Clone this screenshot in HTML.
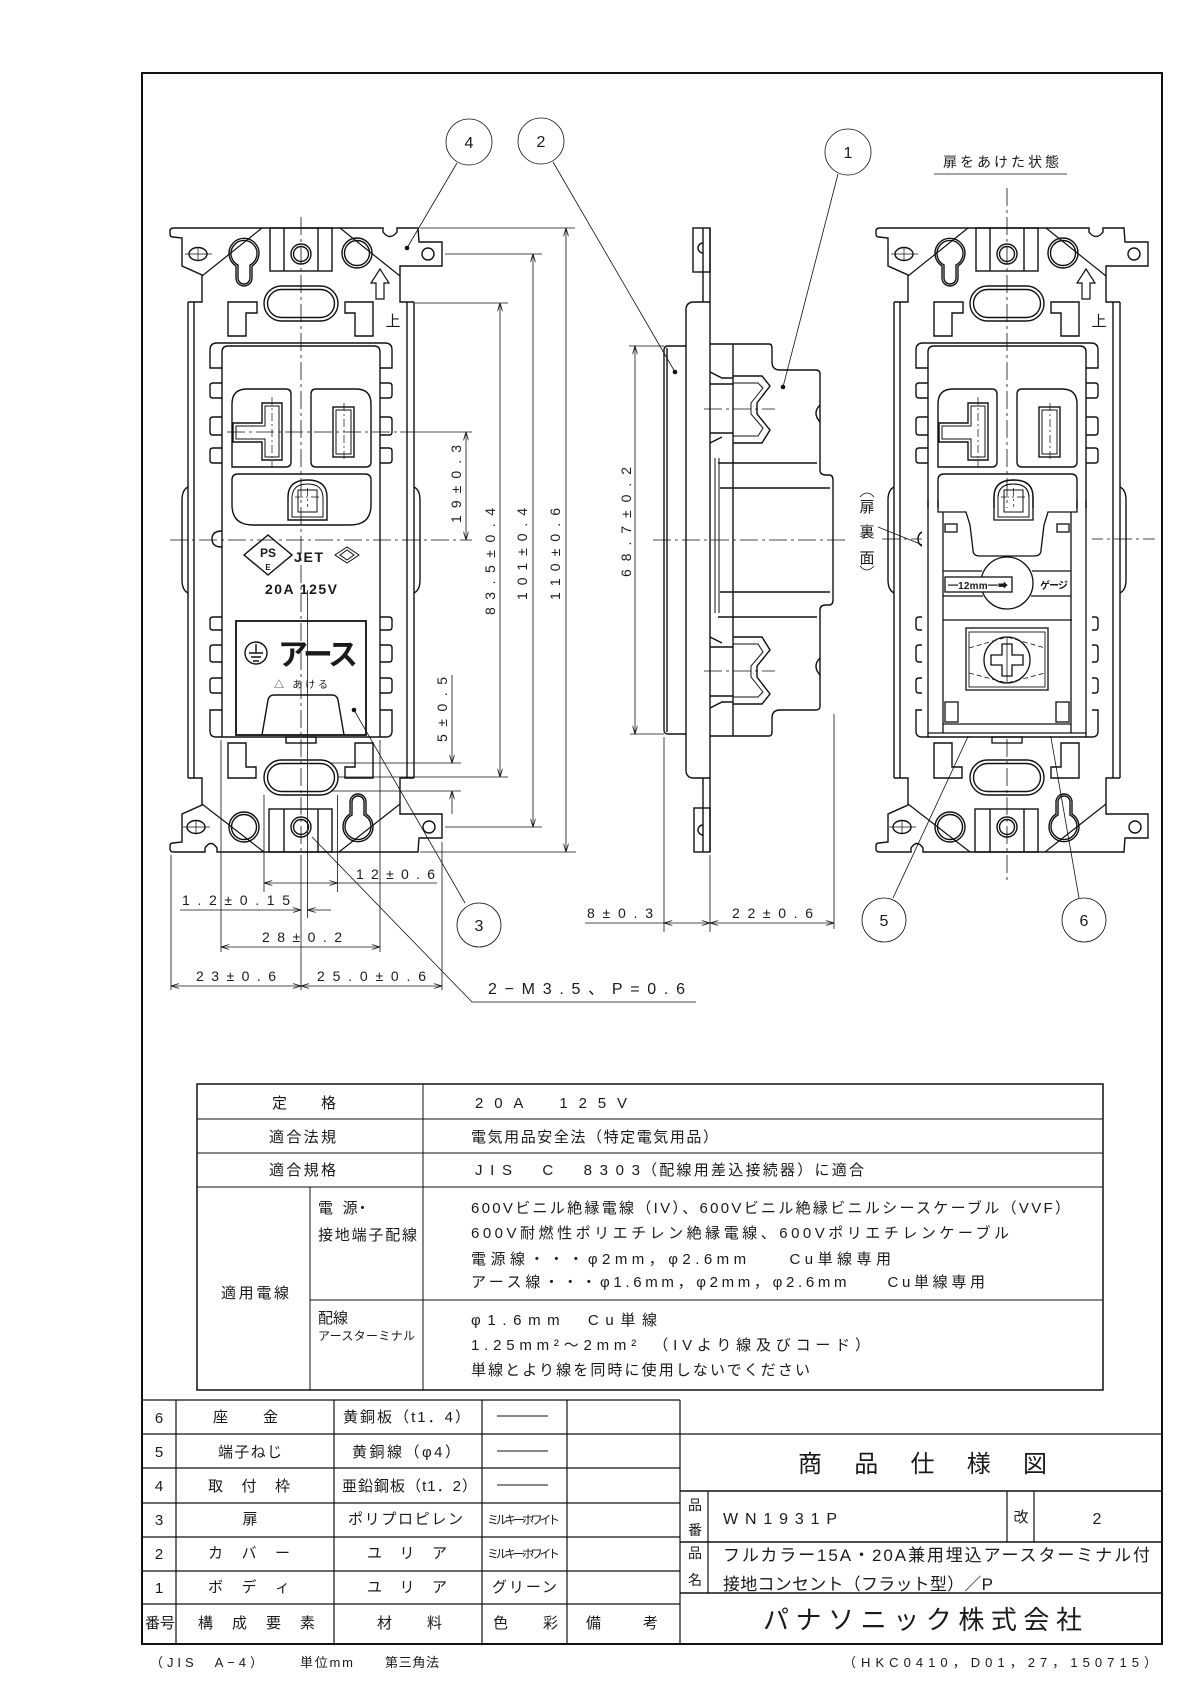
<!DOCTYPE html>
<html><head><meta charset="utf-8">
<style>
html,body{margin:0;padding:0;background:#fff;}
svg{display:block;}
text{font-family:"Liberation Sans","Noto Sans CJK JP",sans-serif;fill:#1a1a1a;}
</style></head><body>
<svg width="1190" height="1683" viewBox="0 0 1190 1683" xmlns="http://www.w3.org/2000/svg">
<defs>
<marker id="ar" viewBox="0 0 10 6" refX="10" refY="3" markerWidth="9" markerHeight="5" orient="auto-start-reverse" markerUnits="userSpaceOnUse">
<path d="M0,0 L10,3 L0,6" fill="none" stroke="#111" stroke-width="1"/>
</marker>
<g id="fv" fill="none" stroke="#111" stroke-width="1.4">
 <path d="M188,302 L202,302 L202,275 L182,266 L182,238 L173,237 Q170,237 170,234 L170,231 Q170,228 174,228 L383,228 L383,232 Q390,241 397,232 L397,228 L418,228 L419,242 L442,242 L442,266 L400,266 L400,302 L414,302"/>
 <path d="M188,778 L202,778 L202,805 L182,814 L182,842 L173,843 Q170,843 170,846 L170,849 Q170,852 174,852 L205,852 L205,848 Q211,839 217,848 L217,852 L418,852 L419,838 L442,838 L442,814 L400,814 L400,778 L414,778"/>
 <path d="M188,302 V778 M194,302 V778 M407,302 V778 M414,302 V778"/>
 <path d="M202,276 L262,228 M340,228 L400,276 M202,804 L264,852 M339,852 L400,804" stroke-width="1.2"/>
 <rect x="270" y="228" width="62" height="43"/>
 <path d="M284,228 V271 M318,228 V271"/>
 <rect x="269" y="809" width="63" height="43"/>
 <path d="M284,809 V852 M318,809 V852"/>
 <circle cx="301" cy="254" r="10"/><circle cx="301" cy="254" r="7.5"/>
 <circle cx="301" cy="827" r="10"/><circle cx="301" cy="827" r="7.5"/>
 <path d="M236,266 A15,15 0 1 1 252,266 L252,278 A8,8 0 0 1 236,278 Z"/>
 <path d="M238,265 A13,13 0 1 1 250,265 L250,278 A6,6 0 0 1 238,278 Z"/>
 <path d="M366,814 A15,15 0 1 1 350,814 L350,802 A8,8 0 0 1 366,802 Z"/>
 <path d="M364,815 A13,13 0 1 1 352,815 L352,802 A6,6 0 0 1 364,802 Z"/>
 <circle cx="357" cy="253" r="15"/><circle cx="357" cy="253" r="12.5"/>
 <circle cx="244" cy="827" r="15"/><circle cx="244" cy="827" r="12.5"/>
 <ellipse cx="198" cy="254" rx="9" ry="6.5"/>
 <ellipse cx="196" cy="827" rx="9" ry="6.5"/>
 <circle cx="428" cy="254" r="6"/>
 <circle cx="429" cy="827" r="6"/>
 <path d="M185,254 H212 M198,247 V261 M183,827 H210 M196,820 V834" stroke-width="0.7"/>
 <rect x="264" y="286" width="74" height="35" rx="17.5"/>
 <rect x="267.5" y="289.5" width="67" height="28" rx="14"/>
 <rect x="264" y="760" width="74" height="35" rx="17.5"/>
 <rect x="267.5" y="763.5" width="67" height="28" rx="14"/>
 <path d="M228,302 H257 V313 H246 V336 H228 Z"/>
 <path d="M373,302 H345 V313 H355 V336 H373 Z"/>
 <path d="M228,778 H256 V767 H246 V743 H228 Z"/>
 <path d="M373,778 H345 V767 H355 V743 H373 Z"/>
 <path d="M380,269 L389,283 L384,283 L384,299 L376,299 L376,283 L371,283 Z" stroke-width="1.2"/>
 <path d="M222,368 H210 V350 Q210,343 217,343 H385 Q392,343 392,350 V368 H380"/>
 <path d="M222,383 H213 Q210,383 210,386 V395 Q210,398 213,398 H222"/>
 <path d="M222,417 H213 Q210,417 210,420 V432 Q210,435 213,435 H222"/>
 <path d="M222,448 H213 Q210,448 210,451 V460 Q210,463 213,463 H222"/>
 <path d="M222,617 H213 Q210,617 210,620 V627 Q210,630 213,630 H222"/>
 <path d="M222,645 H213 Q210,645 210,648 V659 Q210,662 213,662 H222"/>
 <path d="M222,678 H213 Q210,678 210,681 V690 Q210,693 213,693 H222"/>
 <path d="M380,383 H389 Q392,383 392,386 V395 Q392,398 389,398 H380"/>
 <path d="M380,417 H389 Q392,417 392,420 V432 Q392,435 389,435 H380"/>
 <path d="M380,448 H389 Q392,448 392,451 V460 Q392,463 389,463 H380"/>
 <path d="M380,617 H389 Q392,617 392,620 V627 Q392,630 389,630 H380"/>
 <path d="M380,645 H389 Q392,645 392,648 V659 Q392,662 389,662 H380"/>
 <path d="M380,678 H389 Q392,678 392,681 V690 Q392,693 389,693 H380"/>
 <path d="M222,710 H210 V731 Q210,737 216,737 H386 Q392,737 392,731 V710 H380"/>
 <path d="M222,737 V352 Q222,346 228,346 H374 Q380,346 380,352 V737"/>
 <path d="M188,487 Q182,490 182,500 V580 Q182,590 188,593"/>
 <path d="M414,487 Q420,490 420,500 V580 Q420,590 414,593"/>
 <path d="M222,531 Q212,531 212,539 Q212,547 222,547"/>
 <path d="M232,467 V404 Q232,389 247,389 H286 Q291,389 291,394 V462 Q291,467 286,467 Z"/>
 <path d="M262,403 H282 V460 H262 V442 H233 V423 H262 Z"/>
 <path d="M265,406 H279 V457 H265 V439 H236 V426 H265 Z" stroke-width="1"/>
 <path d="M311,394 Q311,389 316,389 H356 Q371,389 371,404 V462 Q371,467 366,467 H316 Q311,467 311,462 Z"/>
 <rect x="333" y="407" width="21" height="50"/>
 <rect x="336" y="410" width="15" height="44" stroke-width="1"/>
 <path d="M232,480 Q232,474 238,474 H365 Q371,474 371,480 V505 Q371,525 350,525 H253 Q232,525 232,505 Z"/>
 <path d="M288,520 V497 Q288,480 307.5,480 Q327,480 327,497 V520 Z"/>
 <path d="M292,517 V498 Q292,484 307.5,484 Q323,484 323,498 V517 Z" stroke-width="1"/>
 <rect x="298" y="490" width="19" height="22" stroke-width="1"/>
 <path d="M272,397 V467 M344,403 V462 M295,497 H320 M307.5,488 V507" stroke-width="0.7" stroke-dasharray="8 3 2 3"/>
</g>
</defs>

<!-- main frame -->
<rect x="142" y="73" width="1020" height="1571" fill="none" stroke="#111" stroke-width="2"/>

<!-- left and right front views (common parts) -->
<use href="#fv"/>
<use href="#fv" transform="translate(706,0)"/>

<g fill="none" stroke="#111" stroke-width="0.8">
 <!-- center lines -->
 <path d="M301,217 V860 M170,540 H472 M1007,188 V882 M882,539 H1155 M653,540 H847 M704,409 H775 M704,671 H775" stroke-dasharray="18 4 3 4"/>
 <path d="M227,432 H400" stroke-dasharray="18 4 3 4"/>
 <path d="M400,432 H472"/>
 <path d="M301,860 V990"/>
 <path d="M307.5,590 V918"/>
 <!-- vertical dims left view -->
 <path d="M420,228 H575 M420,852 H576 M445,254 H542 M445,827 H542 M415,303 H508 M338,777 H508 M331,763 H461 M331,791 H461"/>
 <line x1="566" y1="228" x2="566" y2="852" marker-start="url(#ar)" marker-end="url(#ar)"/>
 <line x1="533" y1="254" x2="533" y2="827" marker-start="url(#ar)" marker-end="url(#ar)"/>
 <line x1="500" y1="303" x2="500" y2="777" marker-start="url(#ar)" marker-end="url(#ar)"/>
 <line x1="466" y1="432" x2="466" y2="540" marker-start="url(#ar)" marker-end="url(#ar)"/>
 <line x1="452" y1="675" x2="452" y2="763" marker-end="url(#ar)"/>
 <line x1="452" y1="814" x2="452" y2="791" marker-end="url(#ar)"/>
 <!-- bottom dims -->
 <path d="M264,795 V892 M337.5,795 V892 M221,740 V952 M380,740 V952 M171,855 V990 M442,842 V990"/>
 <line x1="264" y1="883" x2="337.5" y2="883" marker-start="url(#ar)" marker-end="url(#ar)"/>
 <path d="M337.5,883 H437"/>
 <line x1="180" y1="910" x2="301" y2="910" marker-end="url(#ar)"/>
 <line x1="331" y1="910" x2="307.5" y2="910" marker-end="url(#ar)"/>
 <line x1="221" y1="947" x2="380" y2="947" marker-start="url(#ar)" marker-end="url(#ar)"/>
 <line x1="171" y1="986" x2="301" y2="986" marker-start="url(#ar)" marker-end="url(#ar)"/>
 <line x1="301" y1="986" x2="442" y2="986" marker-start="url(#ar)" marker-end="url(#ar)"/>
 <path d="M312,837 L472,1002 H696"/>
 <!-- side view dims -->
 <path d="M629,346 H664 M630,734 H664 M664,737 V932 M710,855 V932 M834,714 V929"/>
 <line x1="635" y1="346" x2="635" y2="734" marker-start="url(#ar)" marker-end="url(#ar)"/>
 <path d="M585,923 H664"/>
 <line x1="664" y1="923" x2="710" y2="923" marker-start="url(#ar)" marker-end="url(#ar)"/>
 <line x1="710" y1="923" x2="834" y2="923" marker-start="url(#ar)" marker-end="url(#ar)"/>
 <!-- balloons -->
 <circle cx="469" cy="142" r="23"/>
 <circle cx="541" cy="141" r="23"/>
 <circle cx="848" cy="152" r="23"/>
 <circle cx="479" cy="925" r="22"/>
 <circle cx="884" cy="920" r="22"/>
 <circle cx="1084" cy="920" r="22"/>
 <path d="M457,163 L407,248 M553,162 L675,372 M838,174 L783,387 M465,903 L354,710 M893,898 L998,672 M1079,898 L1039,669"/>
 <line x1="878" y1="527" x2="955" y2="558" marker-end="url(#ar)"/>
 <path d="M934,174 H1067"/>
 <path d="M860,497 Q867,489 874,497 M860,566 Q867,574 874,566"/>
</g>
<g fill="#111">
 <circle cx="407" cy="248" r="2.3"/><circle cx="675" cy="372" r="2.3"/><circle cx="783" cy="387" r="2.3"/>
 <circle cx="354" cy="710" r="2.3"/><circle cx="998" cy="672" r="2.3"/><circle cx="1039" cy="669" r="2.3"/>
</g>

<!-- left view specific -->
<g fill="none" stroke="#111" stroke-width="1.4">
 <path d="M244,555 L268,535 L292,555 L268,575 Z"/>
 <path d="M335,555 L347,547 L359,555 L347,563 Z M340,555 L347,550 L354,555 L347,560 Z" stroke-width="1"/>
 <rect x="236" y="621" width="130" height="114" stroke-width="1.8"/>
 <circle cx="256" cy="653" r="11"/>
 <path d="M256,644 V653 M249,653 H263 M251,657 H261 M253,661 H259"/>
 <path d="M262,735 L268,700 Q269,695 274,695 L332,695 Q337,695 338,700 L344,735"/>
 <rect x="286" y="737" width="30" height="6"/>
</g>
<text x="268" y="557" font-size="12" font-weight="bold" text-anchor="middle">PS</text>
<text x="268" y="570" font-size="8" font-weight="bold" text-anchor="middle">E</text>
<text x="294" y="562" font-size="14" font-weight="bold" textLength="29">JET</text>
<text x="265" y="594" font-size="14" font-weight="bold" textLength="72">20A 125V</text>
<text x="278" y="665" font-size="30" font-weight="bold" textLength="80">アース</text>
<text x="274" y="688" font-size="10" textLength="54">△ あける</text>
<text x="393" y="326" font-size="15" text-anchor="middle">上</text>
<text x="1099" y="326" font-size="15" text-anchor="middle">上</text>

<!-- right view specific -->
<g fill="none" stroke="#111" stroke-width="1.3">
 <rect x="922" y="508" width="170" height="228" fill="#fff" stroke="none"/>
 <path d="M928,500 V737 M1086,500 V737"/>
 <path d="M938,500 V512 H943 M1077,500 V512 H1071"/>
 <path d="M943,512 V733 M1071,512 V733"/>
 <path d="M943,512 H966 L970,525 L973,550 Q973,556 980,556 H1034 Q1041,556 1041,550 L1044,525 L1048,512 H1071"/>
 <path d="M994,520 V497 Q994,480 1013.5,480 Q1033,480 1033,497 V520 Z"/>
 <path d="M998,517 V498 Q998,484 1013.5,484 Q1029,484 1029,498 V517 Z" stroke-width="1"/>
 <rect x="1004" y="490" width="19" height="22" stroke-width="1"/>
 <rect x="945" y="524" width="12" height="8"/>
 <rect x="1057" y="524" width="12" height="8"/>
 <path d="M943,571 H982 M1032,571 H1071 M943,596 H983 M1031,596 H1071"/>
 <circle cx="1007" cy="583" r="26"/>
 <rect x="945" y="577" width="67" height="15" fill="#fff"/>
 <path d="M943,620 H1072"/>
 <rect x="966" y="628" width="82" height="62"/>
 <rect x="969" y="632" width="76" height="55" stroke-width="0.9"/>
 <path d="M969,648 L1007,637 L1045,648 M969,673 L1007,683 L1045,673" stroke-width="0.8" stroke-dasharray="5 3"/>
 <circle cx="1007" cy="660" r="23"/>
 <path d="M1002,644 H1012 V655 H1023 V665 H1012 V676 H1002 V665 H991 V655 H1002 Z"/>
 <path d="M1007,637 V683" stroke-width="0.8"/>
 <rect x="945" y="702" width="13" height="20"/>
 <rect x="1056" y="702" width="13" height="20"/>
 <path d="M943,724 H1071 M928,733 H1086"/>
 <rect x="992" y="737" width="30" height="6"/>
</g>
<text x="978" y="589" font-size="10" font-weight="bold" text-anchor="middle" textLength="60">━12mm━➡</text>
<text x="1040" y="589" font-size="10" font-weight="bold" textLength="28">ゲージ</text>
<text x="867" y="512" font-size="15" text-anchor="middle">扉</text>
<text x="867" y="537" font-size="15" text-anchor="middle">裏</text>
<text x="867" y="563" font-size="15" text-anchor="middle">面</text>
<text x="943" y="167" font-size="14" textLength="116">扉をあけた状態</text>

<!-- side view -->
<g fill="none" stroke="#111" stroke-width="1.4">
 <path d="M703,228 V302 M703,778 V852 M710,228 V852"/>
 <rect x="693" y="228" width="17" height="44"/>
 <path d="M703,243 A5,5 0 0 0 703,253"/>
 <rect x="694" y="808" width="16" height="44"/>
 <path d="M703,825 A5,5 0 0 0 703,835"/>
 <path d="M710,302 H694 Q686,302 686,310 V770 Q686,778 694,778 H710"/>
 <path d="M686,346 H668 Q664,346 664,350 V730 Q664,734 668,734 H686 M667,348 V732"/>
 <path d="M710,344 H769 Q772,344 772,348 V362 Q772,370 780,370 H816 Q820,370 820,374 V470 Q820,475 826,475 H829 Q833,475 833,480 V600 Q833,605 829,605 H826 Q820,605 820,610 V706 Q820,710 816,710 H780 Q772,710 772,718 V732 Q772,736 769,736 H710"/>
 <path d="M733,344 V736"/>
 <path d="M710,372 L722,378 H733 M710,443 L722,437 M710,384 H733 M710,433 H733"/>
 <path d="M733,376 H762 L770,386 L757,403 V414 L770,430 L762,443 H733"/>
 <path d="M733,383 H758 L763,388 L751,403 V414 L763,428 L758,436 H733" stroke-width="1"/>
 <path d="M710,708 L722,702 H733 M710,637 L722,643 M710,696 H733 M710,647 H733"/>
 <path d="M733,704 H762 L770,694 L757,677 V666 L770,650 L762,637 H733"/>
 <path d="M733,697 H758 L763,692 L751,677 V666 L763,652 L758,644 H733" stroke-width="1"/>
 <path d="M718,463 H817 M720,488 H830 M720,592 H830 M718,617 H817"/>
 <path d="M715,458 V613 M719,458 V613" stroke-width="1"/>
 <path d="M820,405 Q812,413 820,422 M820,658 Q812,666 820,675"/>
</g>

<!-- drawing texts -->
<g font-size="16" text-anchor="middle">
 <text x="469" y="148">4</text>
 <text x="541" y="147">2</text>
 <text x="848" y="158">1</text>
 <text x="479" y="931">3</text>
 <text x="884" y="926">5</text>
 <text x="1084" y="926">6</text>
</g>
<g font-size="14">
 <text transform="translate(560,600) rotate(-90)" textLength="92">110±0.6</text>
 <text transform="translate(527,600) rotate(-90)" textLength="92">101±0.4</text>
 <text transform="translate(495,615) rotate(-90)" textLength="107">83.5±0.4</text>
 <text transform="translate(461,523) rotate(-90)" textLength="78">19±0.3</text>
 <text transform="translate(447,742) rotate(-90)" textLength="65">5±0.5</text>
 <text transform="translate(631,577) rotate(-90)" textLength="110">68.7±0.2</text>
 <text x="356" y="879" textLength="79">12±0.6</text>
 <text x="182" y="905" textLength="108">1.2±0.15</text>
 <text x="262" y="942" textLength="80">28±0.2</text>
 <text x="196" y="981" textLength="80">23±0.6</text>
 <text x="317" y="981" textLength="109">25.0±0.6</text>
 <text x="488" y="994" font-size="16" textLength="197">2−M3.5、P=0.6</text>
 <text x="587" y="918" textLength="66">8±0.3</text>
 <text x="732" y="918" textLength="81">22±0.6</text>
</g>

<!-- upper spec table -->
<g fill="none" stroke="#111">
 <rect x="197" y="1084" width="906" height="306" stroke-width="1.5"/>
 <path d="M197,1119 H1103 M197,1153 H1103 M197,1187 H1103 M310,1300 H1103 M423,1084 V1390 M310,1187 V1390" stroke-width="1"/>
</g>
<g font-size="15">
 <text x="272" y="1108" textLength="64">定　格</text>
 <text x="475" y="1108" textLength="152">20A　125V</text>
 <text x="269" y="1142" textLength="67">適合法規</text>
 <text x="471" y="1142" textLength="247">電気用品安全法（特定電気用品）</text>
 <text x="269" y="1175" textLength="67">適合規格</text>
 <text x="475" y="1175" textLength="165">JIS　C　8303</text>
 <text x="642" y="1175" textLength="222">（配線用差込接続器）に適合</text>
 <text x="318" y="1213" textLength="52">電　源・</text>
 <text x="318" y="1240" textLength="99">接地端子配線</text>
 <text x="221" y="1298" textLength="68">適用電線</text>
 <text x="471" y="1213" textLength="599">600Vビニル絶縁電線（IV）、600Vビニル絶縁ビニルシースケーブル（VVF）</text>
 <text x="471" y="1238" textLength="538">600V耐燃性ポリエチレン絶縁電線、600Vポリエチレンケーブル</text>
 <text x="471" y="1264" textLength="420">電源線・・・φ2mm，φ2.6mm　　Cu単線専用</text>
 <text x="471" y="1287" textLength="514">アース線・・・φ1.6mm，φ2mm，φ2.6mm　　Cu単線専用</text>
 <text x="318" y="1323" textLength="30">配線</text>
 <text x="318" y="1340" font-size="12" textLength="97">アースターミナル</text>
 <text x="471" y="1325" textLength="186">φ1.6mm　Cu単線</text>
 <text x="471" y="1350" textLength="399">1.25mm²〜2mm²　（IVより線及びコード）</text>
 <text x="471" y="1375" textLength="339">単線とより線を同時に使用しないでください</text>
</g>

<!-- parts table -->
<g fill="none" stroke="#111" stroke-width="1.2">
 <path d="M142,1400 H680 M142,1434 H1162 M142,1468 H680 M142,1503 H680 M142,1537 H680 M142,1571 H680 M142,1604 H680"/>
 <path d="M176,1400 V1644 M334,1400 V1644 M482,1400 V1644 M567,1400 V1644 M680,1400 V1644"/>
 <path d="M680,1491 H1162 M680,1542 H1162 M680,1593 H1162" stroke-width="1.5"/>
 <path d="M708,1491 V1593 M1007,1491 V1542 M1034,1491 V1542"/>
 <path d="M497,1416 H548 M497,1451 H548 M497,1485 H548" stroke-width="1"/>
</g>
<g font-size="15">
 <text x="159" y="1423" text-anchor="middle">6</text>
 <text x="159" y="1457" text-anchor="middle">5</text>
 <text x="159" y="1491" text-anchor="middle">4</text>
 <text x="159" y="1525" text-anchor="middle">3</text>
 <text x="159" y="1559" text-anchor="middle">2</text>
 <text x="159" y="1593" text-anchor="middle">1</text>
 <text x="145" y="1628" textLength="30">番号</text>
 <text x="213" y="1422" textLength="65">座　　金</text>
 <text x="218" y="1457" textLength="64">端子ねじ</text>
 <text x="208" y="1491" textLength="82">取　付　枠</text>
 <text x="250" y="1524" text-anchor="middle">扉</text>
 <text x="208" y="1558" textLength="82">カ　バ　ー</text>
 <text x="208" y="1592" textLength="82">ボ　デ　ィ</text>
 <text x="198" y="1628" textLength="117">構　成　要　素</text>
 <text x="343" y="1422" textLength="127">黄銅板（t1．4）</text>
 <text x="352" y="1457" textLength="108">黄銅線（φ4）</text>
 <text x="342" y="1491" textLength="135">亜鉛鋼板（t1．2）</text>
 <text x="348" y="1524" textLength="115">ポリプロピレン</text>
 <text x="367" y="1558" textLength="80">ユ　リ　ア</text>
 <text x="367" y="1592" textLength="80">ユ　リ　ア</text>
 <text x="377" y="1628" textLength="65">材　　料</text>
 <text x="487" y="1524" font-size="12" textLength="73">ミルキーホワイト</text>
 <text x="487" y="1558" font-size="12" textLength="73">ミルキーホワイト</text>
 <text x="492" y="1592" textLength="65">グリーン</text>
 <text x="493" y="1628" textLength="65">色　　彩</text>
 <text x="586" y="1628" textLength="72">備　　考</text>
</g>

<!-- title block -->
<text x="798" y="1472" font-size="24" textLength="249">商　品　仕　様　図</text>
<g font-size="14" text-anchor="middle">
 <text x="695" y="1510">品</text>
 <text x="695" y="1535">番</text>
 <text x="695" y="1558">品</text>
 <text x="695" y="1585">名</text>
</g>
<text x="723" y="1524" font-size="16" textLength="114">WN1931P</text>
<text x="1021" y="1522" font-size="15" text-anchor="middle">改</text>
<text x="1097" y="1524" font-size="16" text-anchor="middle">2</text>
<text x="723" y="1561" font-size="17" textLength="427">フルカラー15A・20A兼用埋込アースターミナル付</text>
<text x="723" y="1590" font-size="17" textLength="270">接地コンセント（フラット型）／P</text>
<text x="763" y="1629" font-size="26" textLength="319">パナソニック株式会社</text>

<!-- footer -->
<g font-size="13">
 <text x="150" y="1667" textLength="113">（JIS　A−4）</text>
 <text x="300" y="1667" textLength="53">単位mm</text>
 <text x="385" y="1667" textLength="54">第三角法</text>
 <text x="843" y="1667" textLength="314">（HKC0410，D01，27，150715）</text>
</g>
</svg>
</body></html>
